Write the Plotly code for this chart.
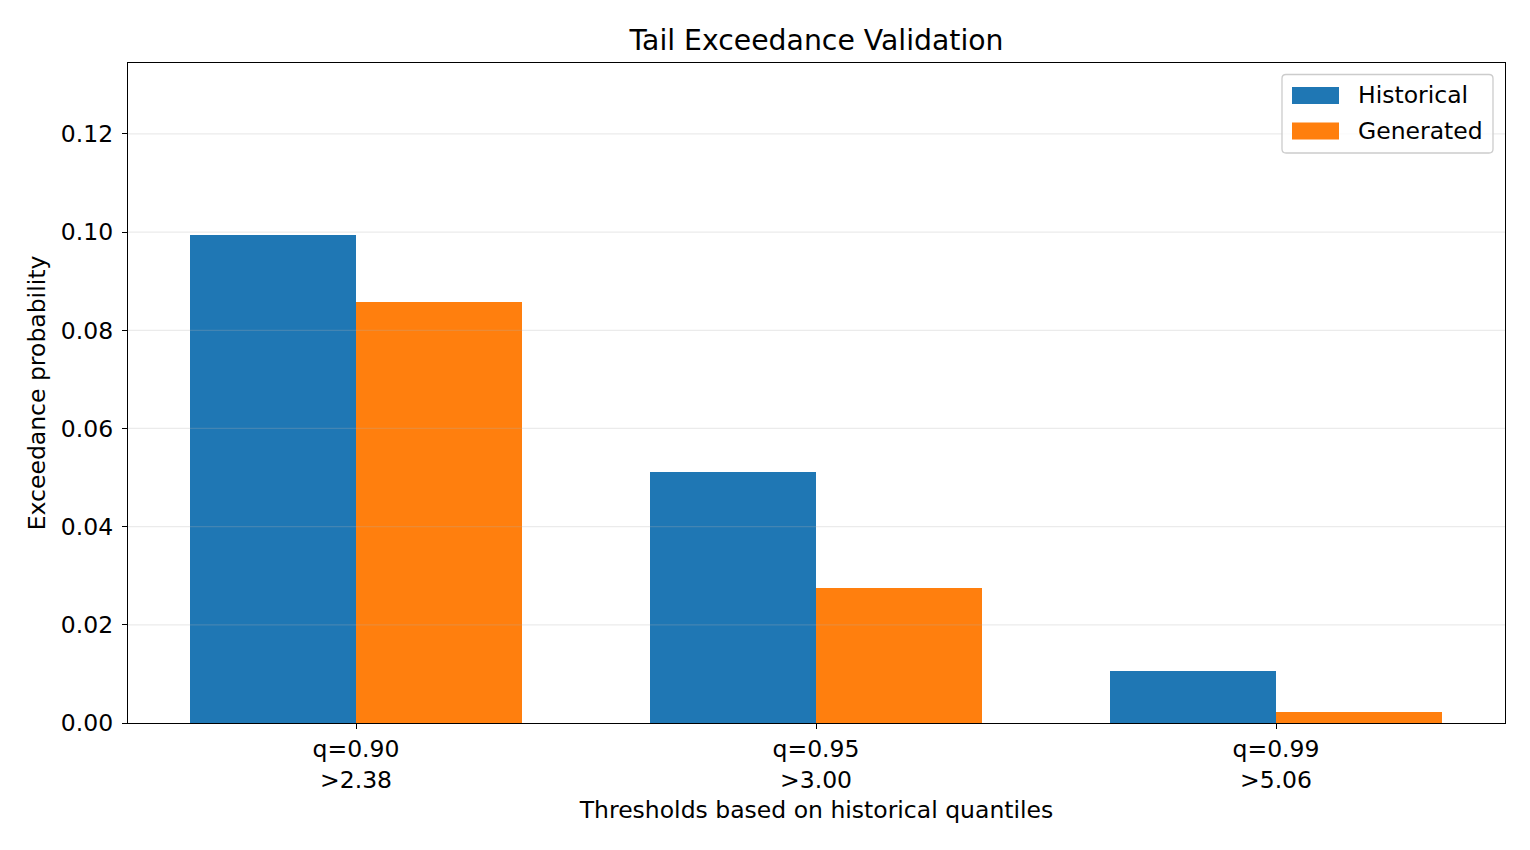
import plotly.graph_objects as go

categories = ["q=0.90<br>>2.38", "q=0.95<br>>3.00", "q=0.99<br>>5.06"]
historical = [0.0994, 0.0511, 0.0105]
generated = [0.0858, 0.0276, 0.0023]
series_names = ["Historical", "Generated"]
colors = ["#1f77b4", "#ff7f0e"]
y_ticks = [0, 0.02, 0.04, 0.06, 0.08, 0.10, 0.12]
bar_w = 0.36

idx = list(range(len(categories)))
FONT = "DejaVu Sans"
FS = 23.5
TFS = 28.3

fig = go.Figure()
for k, (name, vals) in enumerate(zip(series_names, [historical, generated])):
    offs = (k - 0.5) * bar_w
    fig.add_trace(go.Bar(
        x=[i + offs for i in idx], y=vals, width=bar_w, name=name,
        marker=dict(color=colors[k], line=dict(width=0)), showlegend=False,
    ))

W, H = 1530, 850
L, R, T, B = 128, 25, 63, 127
pw, ph = W - L - R, H - T - B

def px(x):
    return (x - L) / pw

def py(y):
    return (H - B - y) / ph

# grid lines drawn above the bars (matplotlib style, translucent)
for t in y_ticks[1:]:
    fig.add_shape(type="line", xref="paper", yref="y", x0=0, x1=1, y0=t, y1=t,
                  layer="above", line=dict(color="rgba(176,176,176,0.25)", width=1.2))

# manual legend (matplotlib style), rounded frame
x0, x1, y0, y1, r = 1282, 1493, 74.5, 153, 4
rx, ry = r / pw, r / ph
X0, X1, Y0, Y1 = px(x0), px(x1), py(y1), py(y0)
path = (f"M {X0+rx},{Y0} L {X1-rx},{Y0} Q {X1},{Y0} {X1},{Y0+ry} "
        f"L {X1},{Y1-ry} Q {X1},{Y1} {X1-rx},{Y1} L {X0+rx},{Y1} "
        f"Q {X0},{Y1} {X0},{Y1-ry} L {X0},{Y0+ry} Q {X0},{Y0} {X0+rx},{Y0} Z")
fig.add_shape(type="path", xref="paper", yref="paper", path=path,
              line=dict(color="#cccccc", width=1.3), fillcolor="rgba(255,255,255,0.8)")
for k, name in enumerate(series_names):
    yc = 95.5 + 35.5 * k
    fig.add_shape(type="rect", xref="paper", yref="paper",
                  x0=px(1292), x1=px(1339), y0=py(yc + 8.5), y1=py(yc - 8.5),
                  line=dict(width=0), fillcolor=colors[k])
    fig.add_annotation(xref="paper", yref="paper", x=px(1356), y=py(yc),
                       text=name, showarrow=False, xanchor="left", yanchor="middle",
                       font=dict(family=FONT, size=FS, color="black"))

fig.update_layout(
    width=W, height=H,
    margin=dict(l=L, r=R, t=T, b=B),
    paper_bgcolor="white", plot_bgcolor="white",
    font=dict(family=FONT, size=FS, color="black"),
    title=dict(text="Tail Exceedance Validation", x=0.5 * (L + W - R) / W, xanchor="center",
               y=1 - 40 / H, yanchor="middle", font=dict(family=FONT, size=TFS, color="black")),
    bargap=0, showlegend=False,
)
fig.update_xaxes(
    range=[-0.4957, 2.4978], tickmode="array", tickvals=idx, ticktext=categories,
    showline=True, linecolor="black", linewidth=1.3, mirror=True,
    ticks="outside", ticklen=5, tickwidth=1.2, tickcolor="black",
    showgrid=False, zeroline=False,
    title=dict(text="Thresholds based on historical quantiles", standoff=8,
               font=dict(family=FONT, size=FS)),
    tickfont=dict(family=FONT, size=FS),
)
fig.update_yaxes(
    range=[0, 0.13445], tickvals=y_ticks, tickformat=".2f",
    showline=True, linecolor="black", linewidth=1.3, mirror=True,
    ticks="outside", ticklen=5, tickwidth=1.2, tickcolor="black",
    showgrid=False, zeroline=False, ticklabelstandoff=4,
    title=dict(text="Exceedance probability", standoff=8, font=dict(family=FONT, size=FS)),
    tickfont=dict(family=FONT, size=FS),
)

fig.write_html("out.html")
